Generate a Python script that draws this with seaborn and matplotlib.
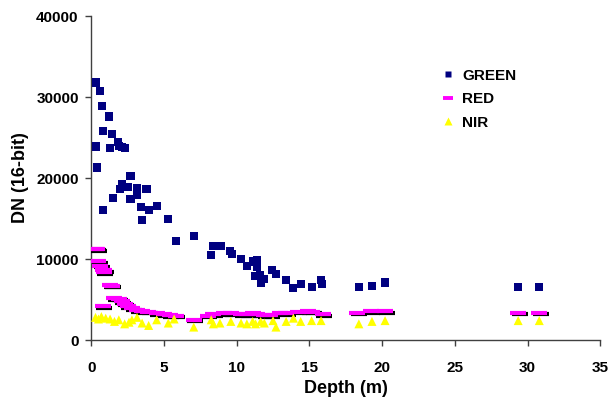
import matplotlib
matplotlib.use("Agg")
import matplotlib.pyplot as plt
import matplotlib.transforms as mtransforms
import pandas as pd
import seaborn as sns
from matplotlib.font_manager import FontProperties
from matplotlib.lines import Line2D

# values
green_depth = [0.3, 0.6, 0.75, 0.8, 1.2, 0.35, 1.45, 1.3, 1.85, 2.1, 1.9, 2.3, 0.4,
               2.7, 2.1, 2.0, 2.55, 3.15, 3.8, 1.5, 2.7, 3.15, 0.8, 3.4, 3.95, 4.5,
               3.5, 5.3, 5.8, 7.05, 8.25, 8.4, 8.9, 9.55, 9.65, 10.3, 10.7, 11.1,
               11.4, 11.4, 11.25, 11.6, 11.7, 11.85, 12.45, 12.7, 13.4, 13.9, 14.4,
               15.2, 15.8, 15.85, 18.4, 19.3, 20.2, 29.35, 30.8]
green_dn = [31800, 30800, 28900, 25800, 27600, 23900, 25400, 23700, 24500, 23800,
            24000, 23700, 21300, 20200, 19300, 18600, 18900, 18800, 18600, 17500,
            17400, 17900, 16100, 16400, 16000, 16600, 14800, 14900, 12200, 12800,
            10500, 11600, 11600, 11000, 10600, 10000, 9100, 9700, 9900, 9000, 7900,
            8000, 7100, 7500, 8700, 8200, 7400, 6400, 6900, 6500, 7400, 6900, 6600,
            6700, 7100, 6600, 6500]

red_depth = [0.35, 0.4, 0.5, 0.6, 0.8, 0.85, 0.9, 1.3, 1.4, 0.8, 1.6, 1.9, 2.1, 2.3,
             2.5, 2.8, 3.15, 3.5, 3.9, 4.5, 5.0, 5.4, 5.8, 7.05, 8.0, 8.4, 9.1, 9.6,
             10.3, 10.7, 11.1, 11.4, 11.9, 12.3, 13.0, 13.4, 14.2, 14.9, 15.2, 15.9,
             18.3, 19.2, 20.2, 29.35, 30.8]
red_dn = [11300, 11200, 9700, 9200, 8700, 8400, 8600, 6800, 6700, 4200, 5200, 5100,
          4800, 4500, 4200, 3900, 3700, 3600, 3500, 3300, 3200, 3100, 3000, 2500, 3000,
          3200, 3300, 3300, 3200, 3200, 3300, 3200, 3100, 3100, 3400, 3300, 3500,
          3600, 3500, 3200, 3400, 3600, 3600, 3400, 3400]

nir_depth = [0.3, 0.5, 0.7, 1.0, 1.3, 1.6, 1.9, 2.3, 2.6, 2.8, 3.15, 3.5, 3.95, 4.5,
             5.3, 5.7, 7.05, 8.25, 8.4, 8.85, 9.6, 10.3, 10.7, 11.1, 11.3, 11.65,
             11.9, 12.5, 12.7, 13.4, 13.9, 14.4, 15.15, 15.8, 18.4, 19.3, 20.2,
             29.35, 30.8]
nir_dn = [2800, 2600, 2900, 2700, 2600, 2300, 2500, 2000, 2200, 2500, 2800, 2100,
          1800, 2500, 2100, 2600, 1600, 2500, 2000, 2100, 2300, 2100, 2000, 2300,
          2000, 2300, 2100, 2400, 1600, 2300, 2700, 2300, 2400, 2400, 2000, 2300,
          2400, 2400, 2400]

x_ticks = [0, 5, 10, 15, 20, 25, 30, 35]
y_ticks = [0, 10000, 20000, 30000, 40000]

df_green = pd.DataFrame({"depth": green_depth, "dn": green_dn})
df_red = pd.DataFrame({"depth": red_depth, "dn": red_dn})
df_nir = pd.DataFrame({"depth": nir_depth, "dn": nir_dn})

sns.set_theme(style="white", rc={
    "text.color": "black",
    "axes.labelcolor": "black",
    "xtick.color": "black",
    "ytick.color": "black",
})
plt.rcParams["font.family"] = ["Liberation Sans", "DejaVu Sans"]
plt.rcParams["font.weight"] = "bold"

fig = plt.figure(figsize=(6.12, 4.01), dpi=100)
ax = fig.add_axes([0.149, 0.152, 0.832, 0.808])

sns.scatterplot(data=df_green, x="depth", y="dn", marker="s", s=34,
                color="#000080", edgecolor="none", ax=ax, legend=False, zorder=3)

# red dashes with a black drop shadow like the original
shadow = mtransforms.offset_copy(ax.transData, fig=fig, x=1.2, y=-1.2, units="points")
sns.scatterplot(data=df_red, x="depth", y="dn", marker="_", s=135, linewidth=3,
                color="black", ax=ax, legend=False, transform=shadow, zorder=4)
sns.scatterplot(data=df_red, x="depth", y="dn", marker="_", s=135, linewidth=3,
                color="#ff00ff", ax=ax, legend=False, zorder=5)

sns.scatterplot(data=df_nir, x="depth", y="dn", marker="^", s=42,
                color="#ffff00", edgecolor="none", ax=ax, legend=False, zorder=6)

ax.set_xlim(0, 35)
ax.set_ylim(0, 40000)
ax.set_xticks(x_ticks)
ax.set_yticks(y_ticks)
ax.tick_params(axis="both", which="major", direction="out", length=4, width=1,
               color="#404040", labelcolor="black", labelsize=11,
               bottom=True, left=True)
ax.tick_params(axis="x", pad=11)
ax.tick_params(axis="y", pad=5)
for lbl in ax.get_xticklabels() + ax.get_yticklabels():
    lbl.set_fontweight("bold")
for side in ["top", "right"]:
    ax.spines[side].set_visible(False)
for side in ["left", "bottom"]:
    ax.spines[side].set_color("#404040")
    ax.spines[side].set_linewidth(1)

ax.set_xlabel("Depth (m)", fontsize=13, fontweight="bold", labelpad=4)
ax.set_ylabel("DN (16-bit)", fontsize=13, fontweight="bold", labelpad=5)

handles = [
    Line2D([0], [0], linestyle="none", marker="s", markersize=4.8,
           markerfacecolor="#000080", markeredgecolor="none", label="GREEN"),
    Line2D([0], [0], linestyle="none", marker="_", markersize=7,
           markeredgewidth=2.8, color="#ff00ff", label="RED"),
    Line2D([0], [0], linestyle="none", marker="^", markersize=5.5,
           markerfacecolor="#ffff00", markeredgecolor="none", label="NIR"),
]
legend_font = FontProperties(family="Liberation Sans", weight="bold", size=11)
leg = ax.legend(handles=handles, loc="upper left", bbox_to_anchor=(0.662, 0.88),
                frameon=False, handlelength=0.8, handletextpad=0.5, labelspacing=0.62,
                prop=legend_font)
for txt in leg.get_texts():
    txt.set_color("black")

fig.savefig("out.png", dpi=100)
